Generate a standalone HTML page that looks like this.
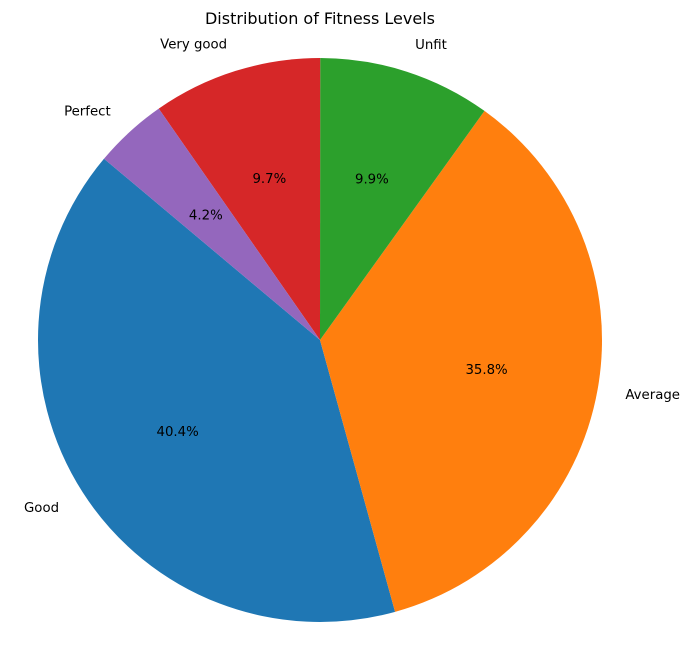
<!DOCTYPE html>
<html><head><meta charset="utf-8"><style>
body{margin:0;background:#fff}
svg text{font-family:"DejaVu Sans","Liberation Sans",sans-serif;font-size:13.3px;fill:#000}
</style></head><body>
<svg id="chart" width="692" height="658" xmlns="http://www.w3.org/2000/svg">
<text x="320" y="24" text-anchor="middle" style="font-size:16px">Distribution of Fitness Levels</text>
<g id="slices"></g><g id="labels"></g>
</svg>
<script>
const categories=["Good","Average","Unfit","Very good","Perfect"];
const values=[40.4,35.8,9.9,9.7,4.2];
const colors=["#1f77b4","#ff7f0e","#2ca02c","#d62728","#9467bd"];
const startAngle=140;
const cx=320,cy=340,R=282;
const NS="http://www.w3.org/2000/svg";
const total=values.reduce((a,b)=>a+b,0);
const sg=document.getElementById('slices'),lg=document.getElementById('labels');
function pt(a,r){const t=a*Math.PI/180;return [cx+r*Math.cos(t),cy-r*Math.sin(t)];}
let a0=startAngle;
values.forEach((v,i)=>{
 const sweep=v/total*360,a1=a0+sweep;
 const p0=pt(a0,R),p1=pt(a1,R);
 const path=document.createElementNS(NS,'path');
 path.setAttribute('d',`M${cx},${cy}L${p0[0]},${p0[1]}A${R},${R} 0 ${sweep>180?1:0} 0 ${p1[0]},${p1[1]}Z`);
 path.setAttribute('fill',colors[i]);
 
 
 sg.appendChild(path);
 const mid=(a0+a1)/2;
 const lp=pt(mid,R*1.1);
 const t=document.createElementNS(NS,'text');
 t.setAttribute('x',lp[0]);t.setAttribute('y',lp[1]+4.5);
 t.setAttribute('text-anchor',Math.cos(mid*Math.PI/180)>=0?'start':'end');
 t.textContent=categories[i];
 
 
 lg.appendChild(t);
 const pp=pt(mid,R*0.6);
 const u=document.createElementNS(NS,'text');
 u.setAttribute('x',pp[0]);u.setAttribute('y',pp[1]+4.5);
 u.setAttribute('text-anchor','middle');
 u.textContent=(v/total*100).toFixed(1)+'%';
 
 
 lg.appendChild(u);
 a0=a1;
});
</script>
</body></html>
